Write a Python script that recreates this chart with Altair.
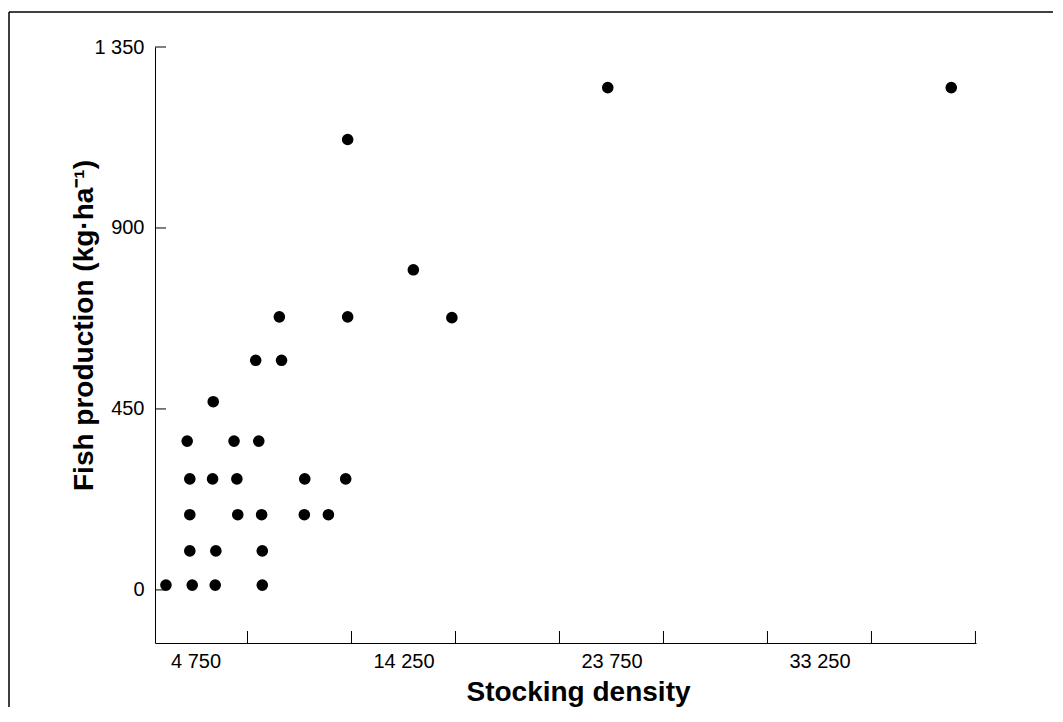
import altair as alt
import pandas as pd

# ---- data ----
density = [3400, 4600, 5650, 7800,
           4490, 5680, 7800,
           4490, 6680, 7770, 9720, 10820,
           4490, 5530, 6640, 9740, 11610,
           4370, 6510, 7640,
           5560,
           7500, 8680,
           8580, 11700, 16460,
           14700,
           11700,
           23580, 39270]
production = [12, 12, 12, 12,
              97, 97, 97,
              187, 187, 187, 187, 187,
              276, 276, 276, 276, 276,
              370, 370, 370,
              468,
              571, 571,
              679, 679, 677,
              796,
              1120,
              1249, 1249]

x_label_values = [4750, 14250, 23750, 33250]
x_tick_values = [7125, 11875, 16625, 21375, 26125, 30875, 35625, 40375]
y_tick_values = [0, 450, 900, 1350]

x_title = "Stocking density"
y_title = "Fish production (kg·ha⁻¹)"

W, H = 821, 596
FONT = "Liberation Sans"
label_expr = "replace(format(datum.value, ','), ',', ' ')"

x_scale = alt.Scale(domain=[2900, 40400], nice=False, zero=False)
y_scale = alt.Scale(domain=[-132, 1350], nice=False, zero=False)

x_axis = alt.Axis(values=x_label_values, ticks=False, tickSize=0,
                  labelExpr=label_expr, labelFontSize=20, labelPadding=8,
                  labelColor="black", domainColor="black", domainWidth=1,
                  grid=False, title=x_title, titleFontSize=28,
                  titleFontWeight="bold", titleColor="black",
                  titleX=423, titleY=57, titleBaseline="alphabetic",
                  titleAlign="center")
y_axis = alt.Axis(values=y_tick_values, ticks=False, tickSize=0,
                  labelExpr=label_expr, labelFontSize=20, labelPadding=11,
                  labelColor="black", domainColor="black", domainWidth=1,
                  grid=False, title=y_title, titleFontSize=28,
                  titleFontWeight="bold", titleColor="black",
                  titleX=-63, titleY=278, titleBaseline="alphabetic",
                  titleAlign="center", titleAngle=270)

df = pd.DataFrame({"density": density, "production": production})

points = alt.Chart(df).mark_circle(size=135, color="black", opacity=1).encode(
    x=alt.X("density:Q", scale=x_scale, axis=x_axis),
    y=alt.Y("production:Q", scale=y_scale, axis=y_axis),
)

yticks = alt.Chart(pd.DataFrame({"production": y_tick_values})).mark_rule(
    color="black", strokeWidth=1).encode(
    y=alt.Y("production:Q", scale=y_scale, axis=y_axis),
    x=alt.value(0), x2=alt.value(11),
)
xticks = alt.Chart(pd.DataFrame({"density": x_tick_values})).mark_rule(
    color="black", strokeWidth=1).encode(
    x=alt.X("density:Q", scale=x_scale, axis=x_axis),
    y=alt.value(H), y2=alt.value(H - 12),
)

one = pd.DataFrame({"a": [0]})
frame_left = alt.Chart(one).mark_rule(color="black", strokeWidth=1.5).encode(
    x=alt.value(-146), x2=alt.value(-146), y=alt.value(-35), y2=alt.value(700))
frame_top = alt.Chart(one).mark_rule(color="black", strokeWidth=1.5).encode(
    y=alt.value(-35), y2=alt.value(-35), x=alt.value(-146), x2=alt.value(898))

chart = alt.layer(points, yticks, xticks, frame_left, frame_top).properties(
    width=W, height=H,
    padding={"left": 147, "top": 39, "right": 79, "bottom": 64},
    autosize=alt.AutoSizeParams(type="none"),
).configure_view(stroke=None).configure_axis(labelFont=FONT, titleFont=FONT)

chart.save("out.html", embed_options={"renderer": "svg", "actions": False})
